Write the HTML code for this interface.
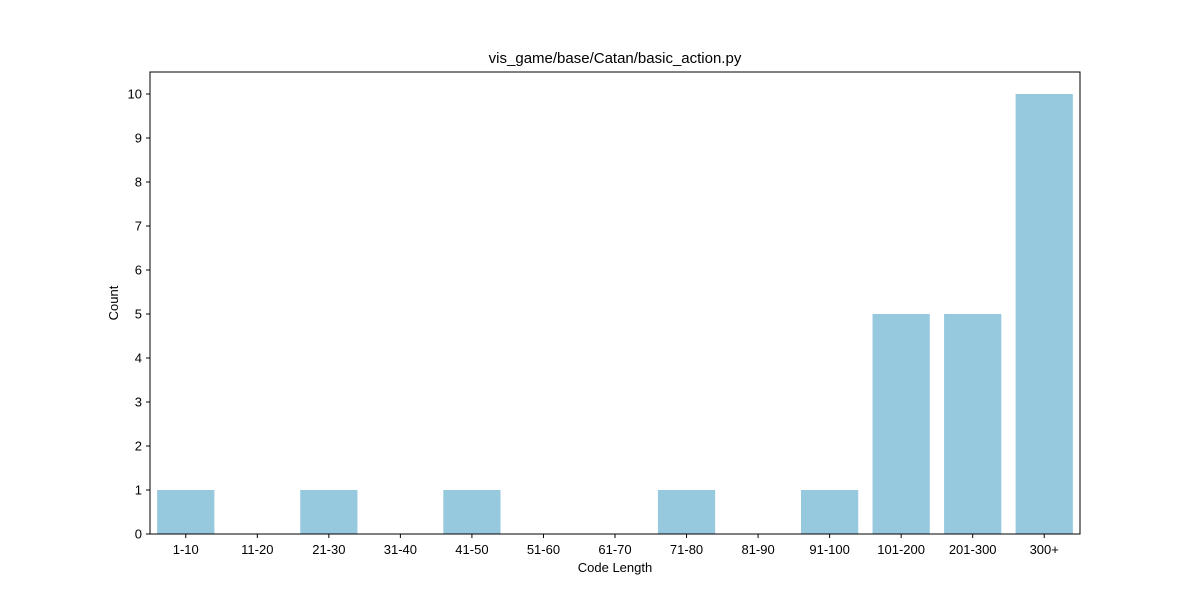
<!DOCTYPE html>
<html><head><meta charset="utf-8"><style>
body{margin:0;background:#fff;}
svg{display:block;font-family:"Liberation Sans",sans-serif;}
</style></head><body>
<svg id="chart" width="1200" height="600" xmlns="http://www.w3.org/2000/svg"></svg>
<script>
const categories=["1-10","11-20","21-30","31-40","41-50","51-60","61-70","71-80","81-90","91-100","101-200","201-300","300+"];
const counts=[1,0,1,0,1,0,0,1,0,1,5,5,10];
const yTicks=[0,1,2,3,4,5,6,7,8,9,10];
const titleText="vis_game/base/Catan/basic_action.py";

const L=150,R=1080,T=72,B=534;
const svg=document.getElementById('chart');
const NS='http://www.w3.org/2000/svg';
const band=(R-L)/categories.length;
function x(i){return L+band*i+band/2;}
function y(v){return B-v*44;}
function mk(tag,attrs,txt){const e=document.createElementNS(NS,tag);for(const k in attrs)e.setAttribute(k,attrs[k]);if(txt!==undefined)e.textContent=txt;svg.appendChild(e);return e;}

counts.forEach((c,i)=>{
  const bw=band*0.8;
  const r=mk('rect',{x:x(i)-bw/2,y:y(c),width:bw,height:B-y(c),fill:'#96c9de'});
  
  
});
const frame=mk('rect',{x:L,y:T,width:R-L,height:B-T,fill:'none',stroke:'#000','stroke-width':1});


yTicks.forEach(t=>{
  mk('line',{x1:L-4,x2:L,y1:y(t),y2:y(t),stroke:'#000'});
  const tl=mk('text',{x:L-8,y:y(t)+4.5,'text-anchor':'end','font-size':13},t);
  
  
});
categories.forEach((c,i)=>{
  mk('line',{x1:x(i),x2:x(i),y1:B,y2:B+4,stroke:'#000'});
  const tl=mk('text',{x:x(i),y:B+20,'text-anchor':'middle','font-size':13},c);
  
  
});
const xt=mk('text',{x:(L+R)/2,y:572,'text-anchor':'middle','font-size':13},'Code Length');


const yt=mk('text',{x:118,y:(T+B)/2,'text-anchor':'middle','font-size':13,transform:'rotate(-90 118 '+((T+B)/2)+')'},'Count');


const tt=mk('text',{x:(L+R)/2,y:63,'text-anchor':'middle','font-size':15},titleText);


</script>
</body></html>
